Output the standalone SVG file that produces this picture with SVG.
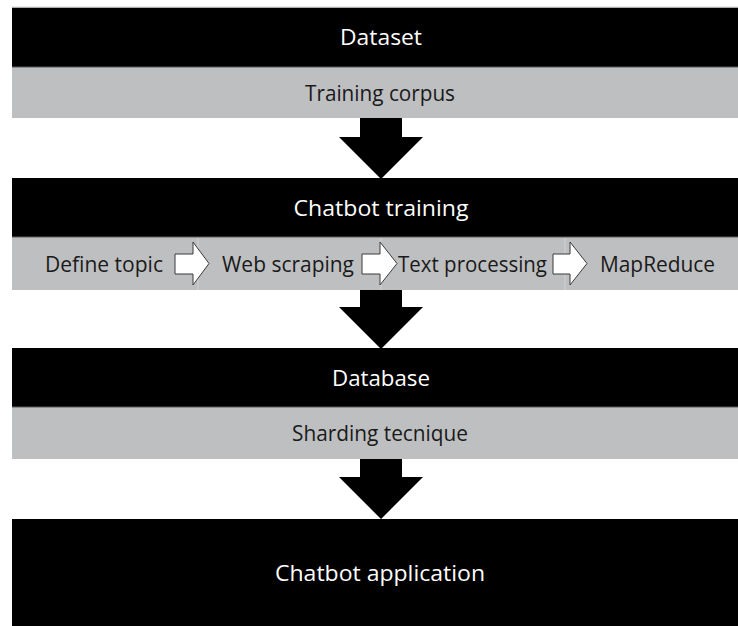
<svg xmlns="http://www.w3.org/2000/svg" width="738" height="626" viewBox="0 0 738 626">
<style>
.blk{fill:#000000}
.gry{fill:#bebfc1}
.wt{fill:#ffffff;font-family:"Open Sans","Liberation Sans",sans-serif;font-size:21.5px}
.dk{fill:#1a1a1a;font-family:"Open Sans","Liberation Sans",sans-serif;font-size:21.5px}
.big{fill:#000000}
.sm{fill:#ffffff;stroke:#3a3a3a;stroke-width:1}
.div{stroke:#d2d2d2;stroke-width:1}
.edge{stroke:#5a5a5a;stroke-width:1}
.lite{stroke:#d9d9d9;stroke-width:1}
</style>
<rect width="738" height="626" fill="#ffffff"/>
<g id="dataset">
<rect class="blk" x="12" y="7.5" width="730" height="59.5"/>
<line class="lite" x1="12" y1="7" x2="738" y2="7"/>
<text class="wt" x="381" y="45" text-anchor="middle" textLength="82" lengthAdjust="spacingAndGlyphs">Dataset</text>
</g>
<g id="training-corpus">
<rect class="gry" x="12" y="67" width="730" height="51"/>
<line class="edge" x1="12" y1="67" x2="738" y2="67"/>
<text class="dk" x="380" y="100.5" text-anchor="middle" textLength="150" lengthAdjust="spacingAndGlyphs">Training corpus</text>
</g>
<g id="chatbot-training">
<rect class="blk" x="12" y="178" width="730" height="59"/>
<text class="wt" x="381" y="215.5" text-anchor="middle" textLength="175" lengthAdjust="spacingAndGlyphs">Chatbot training</text>
</g>
<g id="pipeline">
<rect class="gry" x="12" y="237" width="730" height="53"/>
<line class="edge" x1="12" y1="237" x2="738" y2="237"/>
<line class="div" x1="198" y1="238" x2="198" y2="290"/>
<line class="div" x1="381" y1="238" x2="381" y2="290"/>
<line class="div" x1="565" y1="238" x2="565" y2="290"/>
<text class="dk" x="45" y="271.5" textLength="118" lengthAdjust="spacingAndGlyphs">Define topic</text>
<text class="dk" x="222" y="271.5" textLength="132" lengthAdjust="spacingAndGlyphs">Web scraping</text>
<text class="dk" x="398" y="271.5" textLength="149" lengthAdjust="spacingAndGlyphs">Text processing</text>
<text class="dk" x="600" y="271.5" textLength="115" lengthAdjust="spacingAndGlyphs">MapReduce</text>
</g>
<g id="database">
<rect class="blk" x="12" y="348" width="730" height="59"/>
<text class="wt" x="381" y="385.5" text-anchor="middle" textLength="98" lengthAdjust="spacingAndGlyphs">Database</text>
</g>
<g id="sharding">
<rect class="gry" x="12" y="407" width="730" height="52"/>
<line class="edge" x1="12" y1="407" x2="738" y2="407"/>
<text class="dk" x="380" y="441" text-anchor="middle" textLength="176" lengthAdjust="spacingAndGlyphs">Sharding tecnique</text>
</g>
<g id="chatbot-application">
<rect class="blk" x="12" y="519" width="730" height="110"/>
<text class="wt" x="380" y="581" text-anchor="middle" textLength="210" lengthAdjust="spacingAndGlyphs">Chatbot application</text>
</g>
<g id="connectors">
<polygon class="big" points="360,118 402,118 402,137 423,137 381,179 339,137 360,137"/>
<polygon class="big" points="360,290 402,290 402,307 423,307 381,349 339,307 360,307"/>
<polygon class="big" points="360,459 402,459 402,477 423,477 381,519 339,477 360,477"/>
<polygon class="sm" points="175,254 193,254 193,242 209,263.5 193,285 193,274 175,274"/>
<polygon class="sm" points="362,254 380,254 380,242 397,263.5 380,285 380,274 362,274"/>
<polygon class="sm" points="553,254 570,254 570,242 587,263.5 570,285 570,274 553,274"/>
</g>
</svg>
